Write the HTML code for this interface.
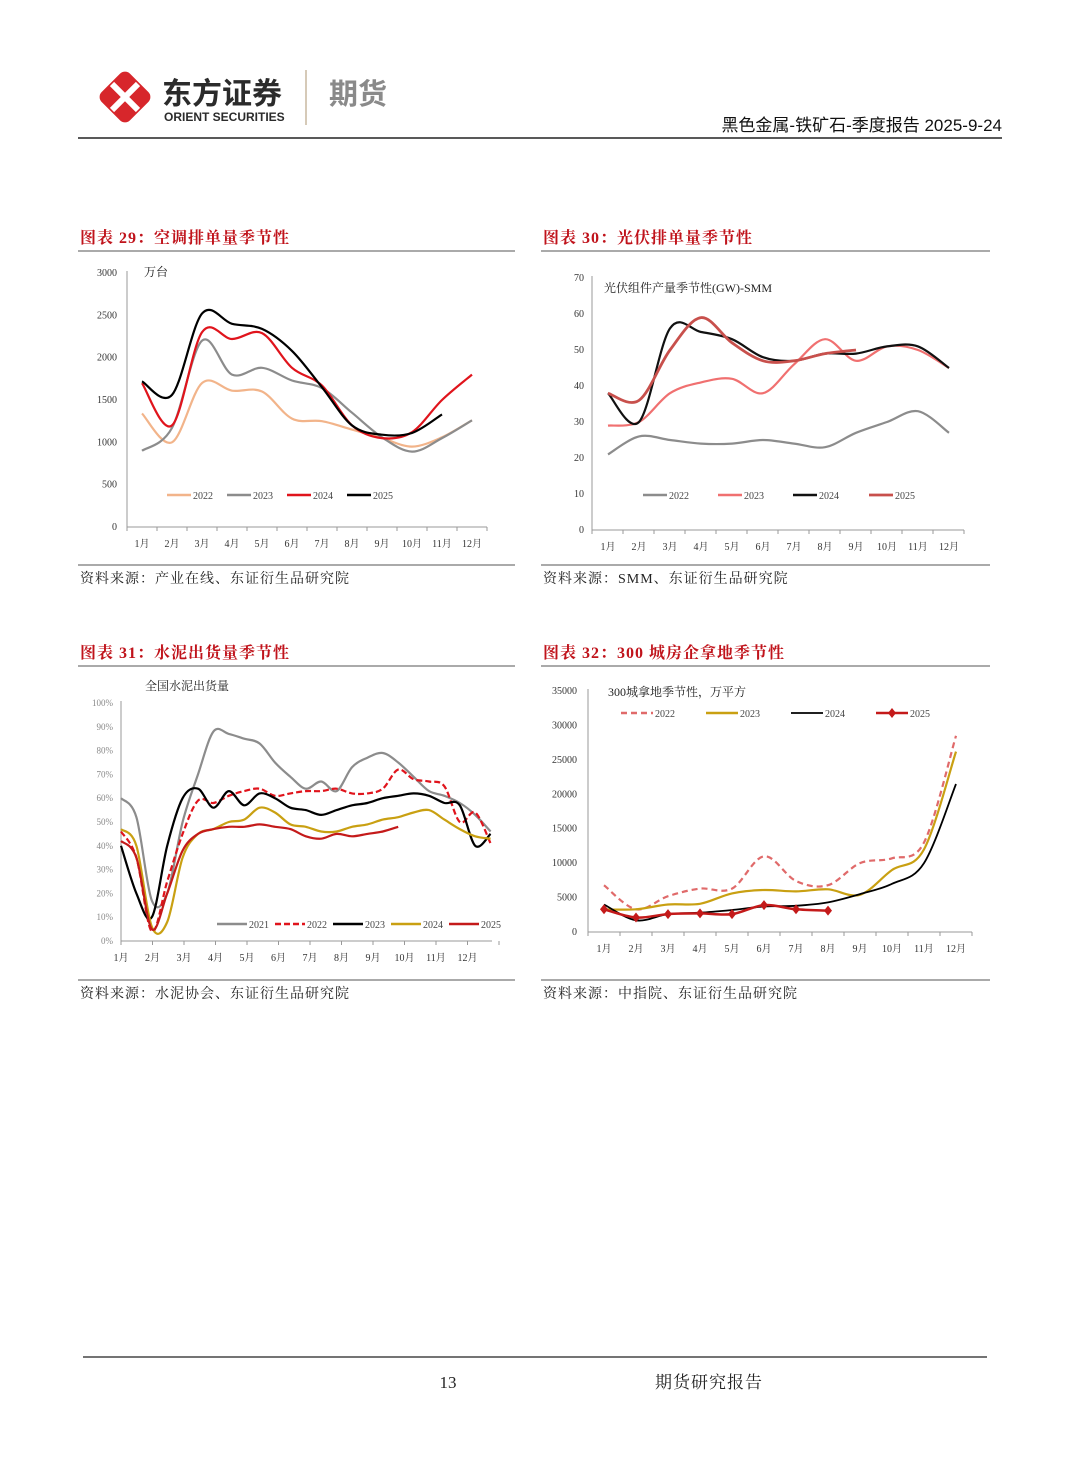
<!DOCTYPE html>
<html><head><meta charset="utf-8"><style>
html,body{margin:0;padding:0;background:#fff;}
svg{display:block;font-family:"Liberation Serif","Noto Serif CJK SC",serif;}
</style></head><body>
<svg id="page" width="1080" height="1466" viewBox="0 0 1080 1466" xmlns="http://www.w3.org/2000/svg">
<g>
 <g transform="translate(125,97)">
  <rect x="-20" y="-20" width="40" height="40" rx="7" fill="#d7262b" transform="rotate(45)"/>
  <path d="M-13,-13 L13,13 M13,-13 L-13,13" stroke="#fff" stroke-width="6"/>
 </g>
 <text x="162" y="104" font-family="Liberation Sans,Noto Sans CJK SC,sans-serif" font-weight="bold" font-size="30" fill="#2b2b2b">东方证券</text>
 <text x="164" y="121" font-family="Liberation Sans,sans-serif" font-weight="bold" font-size="12" fill="#2b2b2b">ORIENT SECURITIES</text>
 <line x1="306" y1="70" x2="306" y2="125" stroke="#c8b9a0" stroke-width="1.5"/>
 <text x="329" y="104" font-family="Liberation Sans,Noto Sans CJK SC,sans-serif" font-weight="bold" font-size="29" fill="#8a8a8a">期货</text>
 <text x="1002" y="131" text-anchor="end" font-family="Liberation Sans,Noto Sans CJK SC,sans-serif" font-size="17" fill="#111">黑色金属-铁矿石-季度报告 2025-9-24</text>
 <line x1="78" y1="138" x2="1002" y2="138" stroke="#222" stroke-width="1.5"/>
</g>
<g id="charts"></g>
<g>
 <line x1="83" y1="1357" x2="987" y2="1357" stroke="#222" stroke-width="1.2"/>
 <text x="448" y="1388" text-anchor="middle" font-size="17" fill="#222">13</text>
 <text x="655" y="1388" font-size="17" fill="#222" letter-spacing="1">期货研究报告</text>
</g>
</svg>
<script>
// ---- Chart 29 data ----
const c1Months = ["1月","2月","3月","4月","5月","6月","7月","8月","9月","10月","11月","12月"];
const c1Ticks = [0,500,1000,1500,2000,2500,3000];
const c1Names = ["2022","2023","2024","2025"];
const c1s2022 = [1340,1000,1700,1610,1600,1280,1250,1150,1050,950,1060,1260];
const c1s2023 = [900,1170,2200,1800,1880,1730,1640,1350,1060,890,1050,1260];
const c1s2024 = [1700,1200,2300,2220,2290,1880,1670,1200,1050,1120,1500,1800];
const c1s2025 = [1720,1560,2520,2400,2340,2080,1650,1200,1090,1110,1330];
// ---- Chart 30 data ----
const c2Months = ["1月","2月","3月","4月","5月","6月","7月","8月","9月","10月","11月","12月"];
const c2Ticks = [0,10,20,30,40,50,60,70];
const c2Names = ["2022","2023","2024","2025"];
const c2s2022 = [21,26,25,24,24,25,24,23,27,30,33,27];
const c2s2023 = [29,30,38,41,42,38,46,53,47,51,50,45];
const c2s2024 = [38,30,56,55,53,48,47,49,49,51,51,45];
const c2s2025 = [38,36,50,59,52,47,47,49,50];
// ---- Chart 31 data (semi-monthly) ----
const c3Months = ["1月","2月","3月","4月","5月","6月","7月","8月","9月","10月","11月","12月"];
const c3Ticks = [0,10,20,30,40,50,60,70,80,90,100];
const c3Names = ["2021","2022","2023","2024","2025"];
const c3s2021 = [60,52,17,20,50,70,88,87,85,83,75,69,64,67,63,73,77,79,75,69,63,61,58,53,46];
const c3s2022 = [46,35,4,25,45,59,58,61,63,64,61,62,63,63,64,62,62,64,72,68,67,65,50,54,41];
const c3s2023 = [40,20,10,40,60,64,56,63,57,62,60,56,55,53,55,57,58,60,61,62,61,58,57,40,45];
const c3s2024 = [47,40,6,8,35,45,47,50,51,56,54,49,48,46,46,48,49,51,52,54,55,51,47,44,43];
const c3s2025 = [42,35,5,20,38,45,47,48,48,49,48,47,44,43,45,44,45,46,48];
// ---- Chart 32 data ----
const c4Months = ["1月","2月","3月","4月","5月","6月","7月","8月","9月","10月","11月","12月"];
const c4Ticks = [0,5000,10000,15000,20000,25000,30000,35000];
const c4Names = ["2022","2023","2024","2025"];
const c4s2022 = [6800,3300,5200,6300,6300,11000,7400,6800,10000,10700,13000,28500];
const c4s2023 = [3300,3300,4000,4100,5600,6100,5900,6200,5400,9000,12000,26200];
const c4s2024 = [4000,1700,2600,2800,3200,3700,3800,4300,5500,7000,10000,21500];
const c4s2025 = [3300,2100,2600,2700,2600,3900,3300,3100];

const NS="http://www.w3.org/2000/svg";
const root=document.getElementById('charts');
function mk(tag,attrs,parent){const e=document.createElementNS(NS,tag);for(const k in attrs)e.setAttribute(k,attrs[k]);(parent||root).appendChild(e);return e;}
function smooth(pts){
  if(pts.length<2)return "";
  let d="M"+pts[0][0].toFixed(1)+","+pts[0][1].toFixed(1);
  for(let i=0;i<pts.length-1;i++){
    const p0=pts[Math.max(0,i-1)],p1=pts[i],p2=pts[i+1],p3=pts[Math.min(pts.length-1,i+2)];
    const t=6;
    d+=" C"+(p1[0]+(p2[0]-p0[0])/t).toFixed(1)+","+(p1[1]+(p2[1]-p0[1])/t).toFixed(1)+" "+(p2[0]-(p3[0]-p1[0])/t).toFixed(1)+","+(p2[1]-(p3[1]-p1[1])/t).toFixed(1)+" "+p2[0].toFixed(1)+","+p2[1].toFixed(1);
  }
  return d;
}
function panel(o){
  const g=mk('g',{});
  
  
  const t=mk('text',{x:o.px,y:o.titleY,'font-size':16,'font-weight':'bold',fill:'#c0131b','letter-spacing':1,'font-family':'Liberation Serif,Noto Serif CJK SC,serif'},g);
  t.textContent=o.title;
  
  
  mk('line',{x1:o.px-2,y1:o.titleY+8,x2:o.pr,y2:o.titleY+8,stroke:'#555','stroke-width':1},g);
  mk('line',{x1:o.px-2,y1:o.srcY-7,x2:o.pr,y2:o.srcY-7,stroke:'#555','stroke-width':1},g);
  const s=mk('text',{x:o.px,y:o.srcY+11,'font-size':14,fill:'#222','letter-spacing':1},g);
  s.textContent=o.source;
  
  
  const y=v=>o.y0-(v-o.ticks[0])/(o.ticks[o.ticks.length-1]-o.ticks[0])*(o.y0-o.y1);
  const x=o.xf;
  mk('line',{x1:o.ax0,y1:o.y0,x2:o.ax0,y2:o.y1-2,stroke:'#999','stroke-width':1},g);
  mk('line',{x1:o.ax0,y1:o.y0,x2:o.ax1,y2:o.y0,stroke:'#999','stroke-width':1},g);
  o.ticks.forEach(v=>{
    const tt=mk('text',{x:o.ylx,y:y(v)+3,'text-anchor':'end','font-size':o.yfs||10,fill:o.ycol||'#333'},g);
    tt.textContent=o.fmt?o.fmt(v):v;
    
    
  });
  o.months.forEach((m,i)=>{
    const lx=o.labelX(i);
    const tt=mk('text',{x:lx,y:o.y0+20,'text-anchor':'middle','font-size':10,fill:'#333'},g);
    tt.textContent=m;
    
    
    const tx=o.tickX(i);
    mk('line',{x1:tx,y1:o.y0,x2:tx,y2:o.y0+4,stroke:'#999','stroke-width':1},g);
  });
  mk('line',{x1:o.tickX(o.months.length),y1:o.y0,x2:o.tickX(o.months.length),y2:o.y0+4,stroke:'#999','stroke-width':1},g);
  const u=mk('text',{x:o.unitX,y:o.unitY,'font-size':12,fill:'#222'},g);
  u.textContent=o.unit;
  
  
  o.series.forEach((sr,k)=>{
    const pts=sr.data.map((v,i)=>[x(i),y(v)]);
    const p=mk('path',{d:smooth(pts),fill:'none',stroke:sr.color,'stroke-width':sr.w||2.2,'stroke-dasharray':sr.dash||'none','stroke-linejoin':'round'},g);
    
    
    if(sr.marker){pts.forEach(pt=>{const dm=mk('path',{d:`M${pt[0]},${pt[1]-5} L${pt[0]+4},${pt[1]} L${pt[0]},${pt[1]+5} L${pt[0]-4},${pt[1]} Z`,fill:sr.color},g);
      
      });}
    const lg=o.legend[k];
    const ll=mk('line',{x1:lg[0],y1:o.legY,x2:lg[0]+lg[1],y2:o.legY,stroke:sr.color,'stroke-width':sr.w||2.5,'stroke-dasharray':sr.dash||'none'},g);
    
    
    if(sr.marker){mk('path',{d:`M${lg[0]+lg[1]/2},${o.legY-5} l4,5 l-4,5 l-4,-5 Z`,fill:sr.color},g);}
    const lt=mk('text',{x:lg[0]+lg[1]+2,y:o.legY+4,'font-size':10,fill:'#444'},g);
    lt.textContent=sr.name;
    
    
  });
}
panel({id:'chart-29-ac',title:'图表 29：空调排单量季节性',px:80,pr:515,titleY:243,srcY:572,source:'资料来源：产业在线、东证衍生品研究院',
 ticks:c1Ticks,y0:527,y1:273,ax0:127,ax1:487,ylx:117,months:c1Months,
 labelX:i=>142+30*i,tickX:i=>127+30*i,xf:i=>142+30*i,unit:'万台',unitX:144,unitY:276,legY:495,
 legend:[[167,24],[227,24],[287,24],[347,24]],
 series:[{name:c1Names[0],data:c1s2022,color:'#f2b48a'},{name:c1Names[1],data:c1s2023,color:'#8c8c8c'},{name:c1Names[2],data:c1s2024,color:'#e0141c'},{name:c1Names[3],data:c1s2025,color:'#000'}]});
panel({id:'chart-30-pv',title:'图表 30：光伏排单量季节性',px:543,pr:990,titleY:243,srcY:572,source:'资料来源：SMM、东证衍生品研究院',
 ticks:c2Ticks,y0:530,y1:278,ax0:592,ax1:964,ylx:584,months:c2Months,
 labelX:i=>608+31*i,tickX:i=>592+31*i,xf:i=>608+31*i,unit:'光伏组件产量季节性(GW)-SMM',unitX:604,unitY:292,legY:495,
 legend:[[643,24],[718,24],[793,24],[869,24]],
 series:[{name:c2Names[0],data:c2s2022,color:'#8c8c8c'},{name:c2Names[1],data:c2s2023,color:'#f07070'},{name:c2Names[2],data:c2s2024,color:'#111'},{name:c2Names[3],data:c2s2025,color:'#c8504c',w:2.8}]});
panel({id:'chart-31-cement',title:'图表 31：水泥出货量季节性',px:80,pr:515,titleY:658,srcY:987,source:'资料来源：水泥协会、东证衍生品研究院',
 ticks:c3Ticks,y0:941,y1:703,ax0:121,ax1:492,ylx:113,yfs:9,ycol:'#888',fmt:v=>v+'%',months:c3Months,
 labelX:i=>121+31.5*i,tickX:i=>121+31.5*i,xf:i=>121+15.4*i,unit:'全国水泥出货量',unitX:145,unitY:690,legY:924,
 legend:[[217,30],[275,30],[333,30],[391,30],[449,30]],
 series:[{name:c3Names[0],data:c3s2021,color:'#8c8c8c'},{name:c3Names[1],data:c3s2022,color:'#e0141c',dash:'6,3'},{name:c3Names[2],data:c3s2023,color:'#000'},{name:c3Names[3],data:c3s2024,color:'#c9a012'},{name:c3Names[4],data:c3s2025,color:'#c41a1a'}]});
panel({id:'chart-32-land',title:'图表 32：300 城房企拿地季节性',px:543,pr:990,titleY:658,srcY:987,source:'资料来源：中指院、东证衍生品研究院',
 ticks:c4Ticks,y0:932,y1:691,ax0:588,ax1:972,ylx:577,months:c4Months,
 labelX:i=>604+32*i,tickX:i=>588+32*i,xf:i=>604+32*i,unit:'300城拿地季节性，万平方',unitX:608,unitY:696,legY:713,
 legend:[[621,32],[706,32],[791,32],[876,32]],
 series:[{name:c4Names[0],data:c4s2022,color:'#e06a6a',dash:'6,4'},{name:c4Names[1],data:c4s2023,color:'#c9a012'},{name:c4Names[2],data:c4s2024,color:'#000',w:1.8},{name:c4Names[3],data:c4s2025,color:'#c41a1a',w:2.5,marker:true}]});
</script>
</body></html>
